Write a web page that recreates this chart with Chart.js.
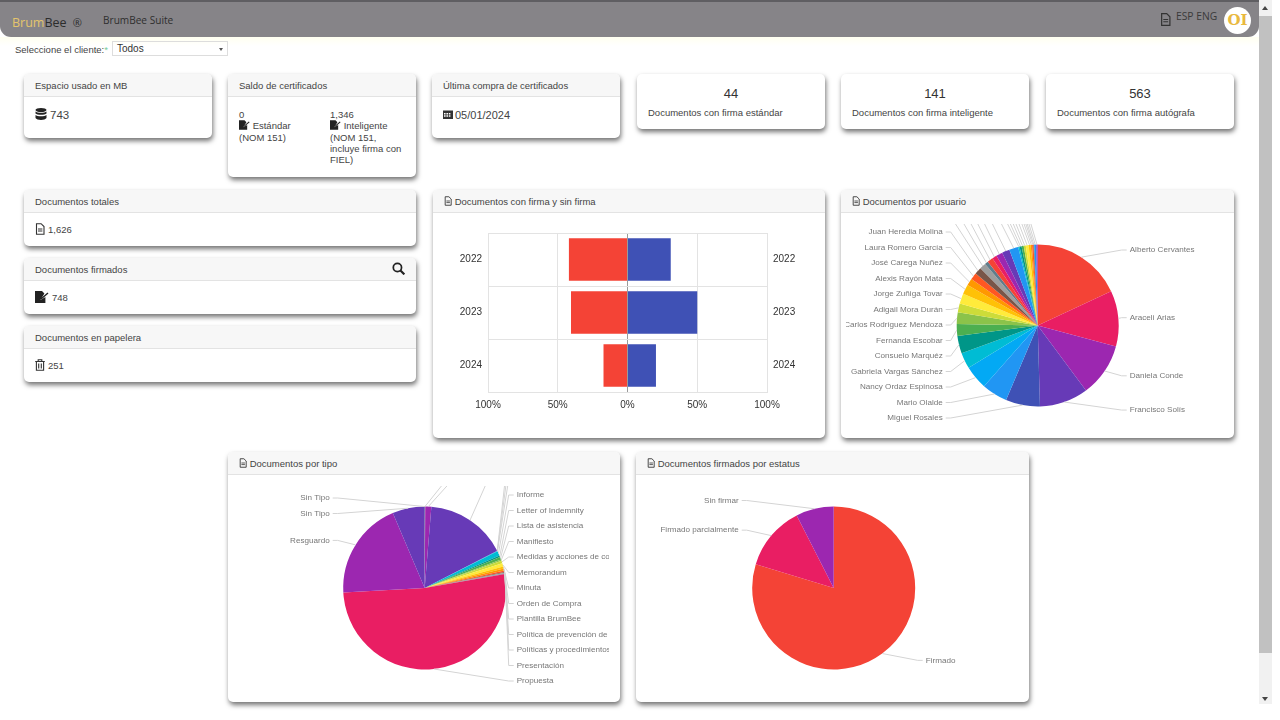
<!DOCTYPE html>
<html lang="es">
<head>
<meta charset="utf-8">
<title>BrumBee Suite</title>
<script src="https://cdn.jsdelivr.net/npm/chart.js@4"></script>
<style>
  html, body { margin: 0; width: 1280px; height: 720px; overflow: hidden; background: #fff; }
  body { position: relative; font-family: "Liberation Sans", Arial, sans-serif; font-size: 9.5px; color: #444; }
  .topbar { position: absolute; left: 0; top: 0; width: 1259px; height: 37px; background: #868488; border-top: 2px solid #5f5e62; box-sizing: border-box; border-radius: 0 0 11px 11px; }
  .glow { position: absolute; left: 0; top: 37px; width: 1259px; height: 9px; background: linear-gradient(#fffff0, #fff); }
  .abs { position: absolute; white-space: nowrap; }
  .brand { left: 12px; top: 14px; font: 12.5px "Open Sans", sans-serif; color: #2c2c2c; }
  .brand b { font-weight: normal; color: #e4c56c; }
  .suite { left: 103px; top: 13px; font: 10.1px "Open Sans", sans-serif; color: #2f2f2f; }
  .lang { left: 1176px; top: 9px; font: 10.3px "Open Sans", sans-serif; color: #3a3a3a; }
  .avatar { position: absolute; left: 1224px; top: 7px; width: 27px; height: 27px; border-radius: 50%; background: #fff; color: #e9b93f; font: bold 15px/27px "DejaVu Serif", serif; text-align: center; }
  .selbox { position: absolute; left: 112px; top: 41px; width: 116px; height: 15px; box-sizing: border-box; border: 1px solid #ddd; padding-left: 4px; line-height: 13px; font-size: 10px; color: #333; }
  .selbox i { position: absolute; right: 4px; top: 6px; border: 2px solid transparent; border-top: 3px solid #555; }
  .card { position: absolute; box-sizing: border-box; background: #fff; border-radius: 5px; box-shadow: 1px 3px 5px rgba(0,0,0,.55); }
  .card .hd { height: 23px; line-height: 24px; box-sizing: border-box; background: #f7f7f7; border-bottom: 1px solid #e3e3e3; border-radius: 5px 5px 0 0; padding-left: 11px; color: #444; white-space: nowrap; }
  .card .hd svg { vertical-align: -1px; }
  .card canvas { position: absolute; left: 5px; }
  .bd { position: absolute; left: 11px; color: #444; white-space: nowrap; }
  .num { font-size: 13px; position: absolute; left: 0; right: 0; top: 12px; text-align: center; color: #333; }
  .cap { position: absolute; left: 11px; top: 33px; white-space: nowrap; }
  .scroll { position: absolute; left: 1259px; top: 0; width: 13px; height: 704px; background: #f1f1f1; }
  .scroll div { position: absolute; left: 0; top: 16px; width: 13px; height: 637px; background: #c1c1c1; }
  .scroll i { position: absolute; left: 3px; border: 3.5px solid transparent; }
</style>
</head>
<body>
<svg width="0" height="0" style="position:absolute">
  <symbol id="i-file" viewBox="0 0 10 12"><path d="M1.5 .7h4.6L9 3.5v7.8H1.5z" fill="none" stroke="#333" stroke-width="1.1"/><path d="M3 6h4.4M3 8h4.4" stroke="#333"/></symbol>
  <symbol id="i-sign" viewBox="0 0 14 12"><path d="M0 0h7l2.4 2.4-4 6.6 5-3V12H0z" fill="#222"/><path d="M6 8l7-6" stroke="#222" stroke-width="1.4"/></symbol>
  <symbol id="i-db" viewBox="0 0 12 12"><ellipse cx="6" cy="2" rx="5.5" ry="2" fill="#222"/><path d="M.5 3.4c1.4 1.7 9.6 1.7 11 0v2.1c-1.4 1.8-9.6 1.8-11 0zM.5 7c1.4 1.7 9.6 1.7 11 0v3c-1.4 2.6-9.6 2.6-11 0z" fill="#222"/></symbol>
  <symbol id="i-cal" viewBox="0 0 10 10"><path d="M0 1.5h10V10H0z" fill="#333"/><path d="M1 4h1.6v1.4H1zM3.4 4H5v1.4H3.4zM5.8 4h1.6v1.4H5.8zM1 6.3h1.6v1.4H1zM3.4 6.3H5v1.4H3.4zM5.8 6.3h1.6v1.4H5.8z" fill="#fff"/></symbol>
  <symbol id="i-trash" viewBox="0 0 10 12"><path d="M.2 2.5h9.6M3.2 2.4V.8h3.6v1.6M1.4 2.6v8.6h7.2V2.6M3.7 4.4v5M6.3 4.4v5" fill="none" stroke="#333" stroke-width="1.1"/></symbol>
  <symbol id="i-search" viewBox="0 0 12 12"><circle cx="5" cy="5" r="3.8" fill="none" stroke="#222" stroke-width="1.6"/><path d="M7.8 7.8L11.4 11.4" stroke="#222" stroke-width="2"/></symbol>
</svg>

<div class="topbar"></div><div class="glow"></div>
<div class="abs brand"><b>Brum</b>Bee <span style="font-size:11px;margin-left:3px">®</span></div>
<div class="abs suite">BrumBee Suite</div>
<svg class="abs" style="left:1160px;top:12px" width="11" height="15"><use href="#i-file"/></svg>
<div class="abs lang">ESP ENG</div>
<div class="avatar">OI</div>
<div class="abs" style="left:15px;top:44px">Seleccione el cliente:<span style="color:#7c9">*</span></div>
<div class="selbox">Todos<i></i></div>

<div class="card" style="left:24px;top:74px;width:188px;height:64px"><div class="hd">Espacio usado en MB</div>
  <div class="bd" style="top:34px;font-size:11.5px"><svg width="12" height="12" style="margin-right:3px;vertical-align:-1px"><use href="#i-db"/></svg>743</div></div>
<div class="card" style="left:228px;top:74px;width:188px;height:103px"><div class="hd">Saldo de certificados</div>
  <div class="bd" style="top:35px;line-height:11.3px">0<br><svg width="11" height="10" style="vertical-align:-1px"><use href="#i-sign"/></svg> Estándar<br>(NOM 151)</div>
  <div class="bd" style="left:102px;top:35px;line-height:11.3px">1,346<br><svg width="11" height="10" style="vertical-align:-1px"><use href="#i-sign"/></svg> Inteligente<br>(NOM 151,<br>incluye firma con<br>FIEL)</div></div>
<div class="card" style="left:432px;top:74px;width:188px;height:64px"><div class="hd">Última compra de certificados</div>
  <div class="bd" style="top:35px;font-size:11px"><svg width="10" height="10" style="margin-right:2px;vertical-align:0"><use href="#i-cal"/></svg>05/01/2024</div></div>
<div class="card" style="left:637px;top:74px;width:188px;height:55px"><div class="num">44</div><div class="cap">Documentos con firma estándar</div></div>
<div class="card" style="left:841px;top:74px;width:188px;height:55px"><div class="num">141</div><div class="cap">Documentos con firma inteligente</div></div>
<div class="card" style="left:1046px;top:74px;width:188px;height:55px"><div class="num">563</div><div class="cap">Documentos con firma autógrafa</div></div>

<div class="card" style="left:24px;top:190px;width:392px;height:56px"><div class="hd">Documentos totales</div>
  <div class="bd" style="top:33px"><svg width="10" height="12" style="margin-right:3px;vertical-align:-2px"><use href="#i-file"/></svg>1,626</div></div>
<div class="card" style="left:24px;top:258px;width:392px;height:56px"><div class="hd">Documentos firmados</div>
  <svg class="abs" style="left:368px;top:4px" width="13" height="13"><use href="#i-search"/></svg>
  <div class="bd" style="top:33px"><svg width="14" height="12" style="margin-right:3px;vertical-align:-2px"><use href="#i-sign"/></svg>748</div></div>
<div class="card" style="left:24px;top:326px;width:392px;height:56px"><div class="hd">Documentos en papelera</div>
  <div class="bd" style="top:33px"><svg width="10" height="12" style="margin-right:3px;vertical-align:-2px"><use href="#i-trash"/></svg>251</div></div>

<div class="card" style="left:433px;top:190px;width:392px;height:248px"><div class="hd"><svg width="8" height="10"><use href="#i-file"/></svg> Documentos con firma y sin firma</div><canvas id="barChart" style="left:11px;top:34px"></canvas></div>
<div class="card" style="left:841px;top:190px;width:393px;height:248px"><div class="hd"><svg width="8" height="10"><use href="#i-file"/></svg> Documentos por usuario</div><canvas id="userPie" style="top:34px"></canvas></div>
<div class="card" style="left:228px;top:452px;width:392px;height:250px"><div class="hd"><svg width="8" height="10"><use href="#i-file"/></svg> Documentos por tipo</div><canvas id="typePie" style="top:34px"></canvas></div>
<div class="card" style="left:636px;top:452px;width:393px;height:250px"><div class="hd"><svg width="8" height="10"><use href="#i-file"/></svg> Documentos firmados por estatus</div><canvas id="statusPie" style="top:34px"></canvas></div>

<div class="scroll"><div></div>
  <i style="top:3px;border-bottom:4px solid #444"></i>
  <i style="top:697px;border-top:4px solid #444"></i>
</div>

<script>
// Documentos con firma y sin firma (percent)
var years = ['2022', '2023', '2024'];
var conFirma = [-42, -40.5, -17.2];
var sinFirma = [31, 50, 20.4];
var xTicks = [-100, -50, 0, 50, 100];

// Documentos por usuario. Empty names are labels cut off above the chart
var userLabels = ['Alberto Cervantes', 'Araceli Arias', 'Daniela Conde', 'Francisco Solís', 'Miguel Rosales', 'Mario Olalde',
  'Nancy Ordaz Espinosa', 'Gabriela Vargas Sánchez', 'Consuelo Marquéz', 'Fernanda Escobar', 'Carlos Rodríguez Mendoza',
  'Adigail Mora Durán', 'Jorge Zuñiga Tovar', 'Alexis Rayón Mata', 'José Carega Nuñez', 'Laura Romero García', 'Juan Heredia Molina',
  '', '', '', '', '', '', '', '', '', '', '', '', '', '', '', '', '', ''];
var userValues = [65, 40, 38.4, 35, 24.6, 18.5, 17, 11.5, 12.6, 8.4, 8.5, 6.2, 7.3, 7, 5, 5, 5,
  4.5, 2.5, 4, 3.4, 4.6, 5.5, 6.5, 1, 1.5, 1.5, 1.5, 2, 1.5, 1, 1, 0.5, 1.5, 1];

// Documentos por tipo
var typeLabels = ['', '', '', '', '', '', 'Informe', 'Letter of Indemnity', 'Lista de asistencia', 'Manifiesto',
  'Medidas y acciones de contingencia', 'Memorandum', 'Minuta', 'Orden de Compra', 'Plantilla BrumBee',
  'Política de prevención de lavado', 'Políticas y procedimientos', 'Presentación', 'Propuesta', 'Resguardo', 'Sin Tipo', 'Sin Tipo'];
var typeValues = [0.4, 4.3, 58.1, 0.1, 0.1, 0.1, 3.4, 1, 2, 0.8, 1.9, 2.4, 1.5, 1.5, 1, 0.5, 0.5, 0.5, 186.5, 70, 22.5, 0.5];

// Documentos firmados por estatus
var statusLabels = ['Firmado', 'Firmado parcialmente', 'Sin firmar'];
var statusValues = [287, 46, 27];

// Slice colours, same order as the labels above
var RED = '#F44336', PINK = '#E91E63', PURPLE = '#9C27B0', DPURPLE = '#673AB7', INDIGO = '#3F51B5', BLUE = '#2196F3',
    LBLUE = '#03A9F4', CYAN = '#00BCD4', TEAL = '#009688', GREEN = '#4CAF50', LGREEN = '#8BC34A', LIME = '#CDDC39',
    YELLOW = '#FFEB3B', AMBER = '#FFC107', ORANGE = '#FF9800', DORANGE = '#FF5722', BROWN = '#795548', GREY = '#9E9E9E', BGREY = '#607D8B';
var userColors = [RED, PINK, PURPLE, DPURPLE, INDIGO, BLUE, LBLUE, CYAN, TEAL, GREEN, LGREEN, LIME, YELLOW, AMBER, ORANGE, DORANGE, BROWN,
  GREY, BGREY, RED, PINK, PURPLE, DPURPLE, BLUE, CYAN, TEAL, GREEN, LIME, YELLOW, AMBER, ORANGE, DORANGE, BROWN, BLUE, PURPLE];
var typeColors = [RED, PURPLE, DPURPLE, INDIGO, BLUE, LBLUE, CYAN, TEAL, GREEN, LGREEN, LIME, YELLOW, AMBER, ORANGE, DORANGE, BROWN, GREY, BGREY,
  PINK, PURPLE, DPURPLE, INDIGO];
var statusColors = [RED, PINK, PURPLE];

var LABEL_FONT = '8.1px "Liberation Sans", Arial, sans-serif';
var LABEL_STEP = 15.5;

// Callout labels with leader lines, positions come from the arcs of the chart
var pieCallouts = {
  id: 'pieCallouts',
  afterDatasetsDraw: function (chart, args, opts) {
    var ctx = chart.ctx;
    var arcs = chart.getDatasetMeta(0).data;
    var labels = chart.data.labels;
    var cx = arcs[0].x, cy = arcs[0].y, r = arcs[0].outerRadius;
    var right = [], left = [];

    arcs.forEach(function (arc, i) {
      var mid = (arc.startAngle + arc.endAngle) / 2;
      var item = { i: i, mid: mid, y: cy + (r + 8.5) * Math.sin(mid) };
      if (Math.cos(mid) >= 0) right.push(item); else left.push(item);
    });

    // Arcs run clockwise, so the right side goes down and the left side goes up
    function place(items, bottom) {
      if (bottom != null) {
        items.forEach(function (item, k) { item.y = cy + bottom - k * LABEL_STEP; });
        return;
      }
      var prev = -Infinity;
      items.slice().sort(function (a, b) { return a.y - b.y; }).forEach(function (item) {
        item.y = Math.max(item.y, prev + LABEL_STEP);
        prev = item.y;
      });
    }
    place(right.slice().reverse(), opts.rightBottom);
    place(left, opts.leftBottom);

    function draw(item, dir) {
      var x0 = cx + r * Math.cos(item.mid), y0 = cy + r * Math.sin(item.mid);
      var xLabel = dir > 0 ? cx + 92 : cx - 95;
      ctx.beginPath();
      ctx.moveTo(x0, y0);
      ctx.lineTo(xLabel - dir * 8, item.y);
      ctx.lineTo(xLabel - dir * 3, item.y);
      ctx.strokeStyle = '#d4d4d4';
      ctx.lineWidth = 1;
      ctx.stroke();
      if (labels[item.i]) {
        ctx.fillStyle = '#777';
        ctx.font = LABEL_FONT;
        ctx.textAlign = dir > 0 ? 'left' : 'right';
        ctx.textBaseline = 'middle';
        ctx.fillText(labels[item.i], xLabel, item.y);
      }
    }
    ctx.save();
    right.forEach(function (item) { draw(item, 1); });
    left.forEach(function (item) { draw(item, -1); });
    ctx.restore();
  }
};

// The canvas reaches further left than right so the long names fit, padLeft keeps the pie centred
function makePie(id, labels, values, colors, height, padLeft, callouts) {
  var canvas = document.getElementById(id);
  canvas.style.width = '376px';
  canvas.style.height = height + 'px';
  return new Chart(canvas, {
    type: 'pie',
    data: { labels: labels, datasets: [{ data: values, backgroundColor: colors, borderWidth: 0 }] },
    options: {
      responsive: false,
      animation: false,
      layout: { padding: { left: padLeft, right: 20.5, top: 20.5, bottom: 20.5 } },
      plugins: { legend: { display: false }, tooltip: { enabled: false }, pieCallouts: callouts }
    },
    plugins: [pieCallouts]
  });
}

var barCanvas = document.getElementById('barChart');
barCanvas.style.width = '370px';
barCanvas.style.height = '203px';

function sideAxis(position, width) {
  return {
    type: 'category',
    labels: years,
    position: position,
    stacked: true,
    offset: true,
    border: { color: '#e3e3e3' },
    grid: { color: '#e3e3e3', tickLength: 0 },
    ticks: { color: '#333', padding: 6, font: { size: 10, family: '"Liberation Sans", Arial, sans-serif' } },
    afterFit: function (scale) {
      scale.width = width;
      scale.paddingTop = 0;
      scale.paddingBottom = 0;
    }
  };
}

new Chart(barCanvas, {
  type: 'bar',
  data: {
    labels: years,
    datasets: [
      { label: 'Con firma', data: conFirma, backgroundColor: RED, barPercentage: 1, categoryPercentage: 0.8 },
      { label: 'Sin firma', data: sinFirma, backgroundColor: INDIGO, barPercentage: 1, categoryPercentage: 0.8 }
    ]
  },
  options: {
    responsive: false,
    animation: false,
    indexAxis: 'y',
    layout: { padding: { top: 9 } },
    plugins: { legend: { display: false }, tooltip: { enabled: false } },
    scales: {
      x: {
        stacked: true,
        min: -100,
        max: 100,
        afterBuildTicks: function (scale) { scale.ticks = xTicks.map(function (v) { return { value: v }; }); },
        afterFit: function (scale) { scale.height = 35; },
        border: { color: '#e3e3e3' },
        grid: {
          tickLength: 0,
          color: function (c) { return c.tick && c.tick.value === 0 ? '#9a9a9a' : '#e3e3e3'; }
        },
        ticks: {
          color: '#333',
          padding: 7,
          maxRotation: 0,
          font: { size: 10, family: '"Liberation Sans", Arial, sans-serif' },
          callback: function (v) { return Math.abs(v) + '%'; }
        }
      },
      y: sideAxis('left', 44),
      y2: sideAxis('right', 47)
    }
  }
});

makePie('userPie', userLabels, userValues, userColors, 203, 27.9, { leftBottom: 92.5 });
makePie('typePie', typeLabels, typeValues, typeColors, 204, 27.9, { rightBottom: 93 });
makePie('statusPie', statusLabels, statusValues, statusColors, 204, 29.9, {});
</script>
</body>
</html>
